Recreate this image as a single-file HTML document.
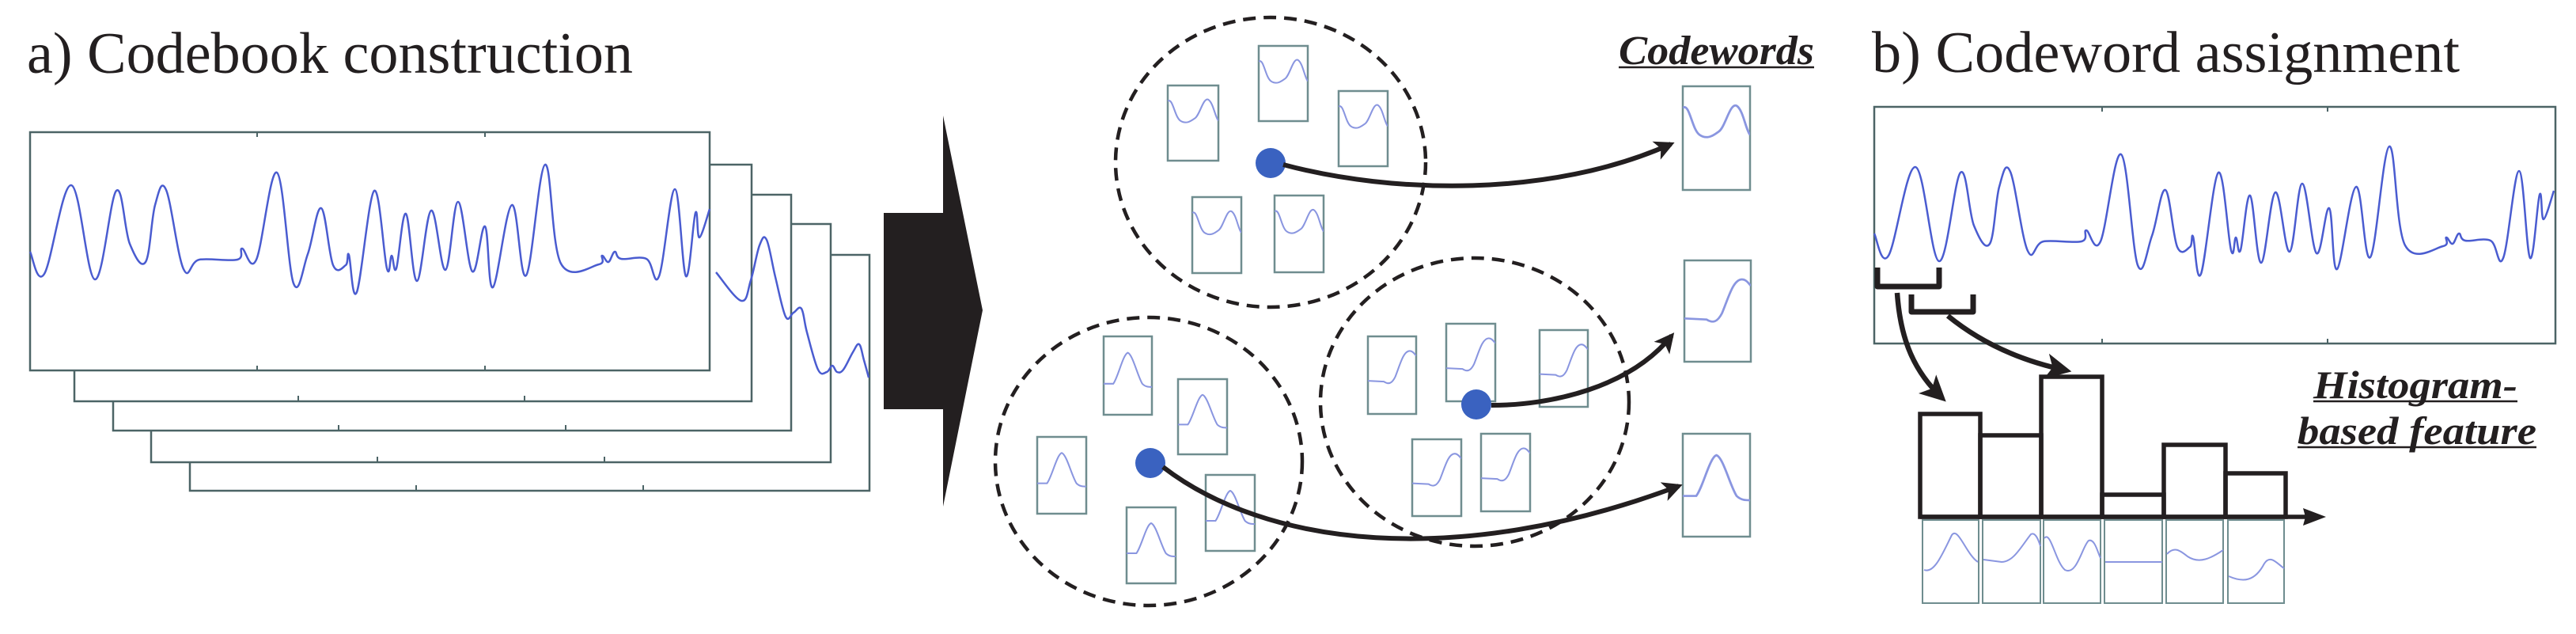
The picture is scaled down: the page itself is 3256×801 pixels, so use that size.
<!DOCTYPE html>
<html><head><meta charset="utf-8"><style>html,body{margin:0;padding:0;background:#fff}svg{display:block}</style></head>
<body>
<svg id="root" width="3256" height="801" viewBox="0 0 3256 801" xmlns="http://www.w3.org/2000/svg">
<defs>
<marker id="ah" viewBox="0 0 10 10" refX="8" refY="5" markerWidth="4.2" markerHeight="4.2" orient="auto" markerUnits="strokeWidth"><path d="M0,0 L10,5 L0,10 L2.5,5 z" fill="#231f20"/></marker>
<marker id="ah2" viewBox="0 0 10 10" refX="8" refY="5" markerWidth="5" markerHeight="5" orient="auto" markerUnits="strokeWidth"><path d="M0,0 L10,5 L0,10 L2.5,5 z" fill="#231f20"/></marker>
<symbol id="wA" viewBox="0 0 60 96" preserveAspectRatio="none"><path d="M0,20 C6,15 8,40 15,45 C22,50 28,45 32,42 C38,38 42,15 48,18 C54,22 56,40 60,45" fill="none" stroke="#8a96e0" stroke-width="2"/></symbol>
<symbol id="wB" viewBox="0 0 60 96" preserveAspectRatio="none"><path d="M0,55 L20,56 C26,60 30,58 34,50 C40,35 44,18 52,18 C56,18 58,22 60,24" fill="none" stroke="#8a96e0" stroke-width="2"/></symbol>
<symbol id="wC" viewBox="0 0 60 96" preserveAspectRatio="none"><path d="M0,58 L12,58 C18,50 24,22 30,20 C36,22 42,48 48,58 C52,62 56,62 60,62" fill="none" stroke="#8a96e0" stroke-width="2"/></symbol>
<g id="sig"><polyline class="sm" points="0,0 18,28 52,-84 82,35 109,-77 126,-10 146,13 158,-59 172,-78 194,22 214,10 262,10 268,-4 286,10 312,-100 333,40 351,3 368,-55 383,17 399,17 403,4 413,51 435,-77 451,21 457,5 463,21 475,-48 489,37 507,-52 525,23 541,-63 559,25 575,-32 585,45 609,-59 627,30 651,-110 671,15 719,16 723,5 731,13 739,0 747,9 779,9 795,31 815,-79 829,31 841,-49 846,-18 859,-54" fill="none" stroke="#4a5cd0" stroke-width="2.5" stroke-linejoin="round"/></g>
</defs>

<text x="34" y="92" font-family="Liberation Serif, serif" font-size="74" fill="#231f20" textLength="766" lengthAdjust="spacingAndGlyphs">a) Codebook construction</text>
<text x="2366" y="91" font-family="Liberation Serif, serif" font-size="74" fill="#231f20" textLength="743" lengthAdjust="spacingAndGlyphs">b) Codeword assignment</text>

<g stroke="#4c6466" stroke-width="2.5" fill="#fff">
<rect x="240" y="322" width="859" height="298"/>
<rect x="191" y="283" width="859" height="301"/>
<rect x="143" y="246" width="857" height="298"/>
<rect x="94" y="208" width="856" height="299"/>
<rect x="38" y="167" width="859" height="301"/>
</g>
<g stroke="#4c6466" stroke-width="2">
<line x1="325" y1="167" x2="325" y2="173"/><line x1="613" y1="167" x2="613" y2="173"/>
<line x1="325" y1="468" x2="325" y2="462"/><line x1="613" y1="468" x2="613" y2="462"/>
<line x1="377" y1="507" x2="377" y2="500"/><line x1="663" y1="507" x2="663" y2="500"/>
<line x1="428" y1="544" x2="428" y2="537"/><line x1="715" y1="544" x2="715" y2="537"/>
<line x1="477" y1="584" x2="477" y2="577"/><line x1="764" y1="584" x2="764" y2="577"/>
<line x1="526" y1="620" x2="526" y2="613"/><line x1="813" y1="620" x2="813" y2="613"/>
</g>
<use href="#sig" transform="translate(38,318)"/>
<polyline class="sm" points="905,344 937,380 949,354 960,310 969,303 980,350 993,400 1003,395 1013,390 1020,420 1034,467 1045,470 1052,462 1058,470 1066,467 1078,445 1086,435 1092,455 1098,477" fill="none" stroke="#4a5cd0" stroke-width="2.5" stroke-linejoin="round"/>

<polygon points="1117,269 1192,269 1192,146 1242,392 1192,640 1192,517 1117,517" fill="#231f20"/>

<g fill="none" stroke="#231f20" stroke-width="4.5" stroke-dasharray="16,10">
<ellipse cx="1606" cy="205" rx="196" ry="183"/>
<ellipse cx="1452" cy="583" rx="194" ry="182"/>
<ellipse cx="1864" cy="508" rx="195" ry="182"/>
</g>
<g stroke="#6f8d8f" stroke-width="2.5" fill="#fff">
<rect x="1476" y="108" width="64" height="95"/><rect x="1591" y="58" width="62" height="95"/><rect x="1692" y="115" width="62" height="95"/><rect x="1507" y="249" width="62" height="96"/><rect x="1611" y="247" width="62" height="97"/>
<rect x="1395" y="425" width="61" height="99"/><rect x="1489" y="479" width="62" height="95"/><rect x="1311" y="552" width="62" height="97"/><rect x="1524" y="600" width="62" height="96"/><rect x="1424" y="641" width="62" height="96"/>
<rect x="1729" y="425" width="61" height="98"/><rect x="1828" y="409" width="62" height="98"/><rect x="1946" y="417" width="61" height="97"/><rect x="1785" y="555" width="62" height="97"/><rect x="1872" y="548" width="62" height="98"/>
<rect x="2127" y="109" width="85" height="131"/><rect x="2129" y="329" width="84" height="128"/><rect x="2127" y="548" width="85" height="130"/>
</g>
<use href="#wA" x="1476" y="108" width="64" height="95"/><use href="#wA" x="1591" y="58" width="62" height="95"/><use href="#wA" x="1692" y="115" width="62" height="95"/><use href="#wA" x="1507" y="249" width="62" height="96"/><use href="#wA" x="1611" y="247" width="62" height="97"/>
<use href="#wC" x="1395" y="425" width="61" height="99"/><use href="#wC" x="1489" y="479" width="62" height="95"/><use href="#wC" x="1311" y="552" width="62" height="97"/><use href="#wC" x="1524" y="600" width="62" height="96"/><use href="#wC" x="1424" y="641" width="62" height="96"/>
<use href="#wB" x="1729" y="425" width="61" height="98"/><use href="#wB" x="1828" y="409" width="62" height="98"/><use href="#wB" x="1946" y="417" width="61" height="97"/><use href="#wB" x="1785" y="555" width="62" height="97"/><use href="#wB" x="1872" y="548" width="62" height="98"/>
<use href="#wA" x="2127" y="109" width="85" height="131"/><use href="#wB" x="2129" y="329" width="84" height="128"/><use href="#wC" x="2127" y="548" width="85" height="130"/>

<g fill="#3a62c0"><circle cx="1606" cy="206" r="19"/><circle cx="1454" cy="585" r="19"/><circle cx="1866" cy="511" r="19"/></g>
<g fill="none" stroke="#231f20" stroke-width="6">
<path d="M1622,208 C1760,245 1960,250 2112,182" marker-end="url(#ah)"/>
<path d="M1885,512 C1960,512 2060,490 2113,424" marker-end="url(#ah)"/>
<path d="M1470,590 C1600,690 1840,720 2122,614" marker-end="url(#ah)"/>
</g>
<text x="2046" y="81" font-family="Liberation Serif, serif" font-size="52" font-weight="bold" font-style="italic" fill="#231f20" textLength="247" lengthAdjust="spacingAndGlyphs">Codewords</text>
<line x1="2046" y1="85" x2="2293" y2="85" stroke="#231f20" stroke-width="2.5"/>

<rect x="2369" y="135" width="861" height="299" fill="#fff" stroke="#4c6466" stroke-width="2.5"/>
<g stroke="#4c6466" stroke-width="2"><line x1="2657" y1="135" x2="2657" y2="141"/><line x1="2942" y1="135" x2="2942" y2="141"/><line x1="2657" y1="434" x2="2657" y2="428"/><line x1="2942" y1="434" x2="2942" y2="428"/></g>
<use href="#sig" transform="translate(2369,295)"/>
<g fill="none" stroke="#231f20" stroke-width="7" stroke-linejoin="round">
<polyline points="2373,338 2373,362 2451,362 2451,338"/>
<polyline points="2416,372 2416,394 2494,394 2494,372"/>
</g>
<g fill="none" stroke="#231f20" stroke-width="6.5">
<path d="M2398,370 C2402,430 2420,470 2455,503" marker-end="url(#ah2)"/>
<path d="M2462,399 C2500,430 2550,455 2612,468" marker-end="url(#ah2)"/>
</g>

<g stroke="#6f8d8f" stroke-width="2" fill="#fff">
<rect x="2430" y="657" width="71" height="105"/><rect x="2506" y="657" width="73" height="105"/><rect x="2583" y="657" width="72" height="105"/><rect x="2660" y="657" width="73" height="105"/><rect x="2738" y="657" width="72" height="105"/><rect x="2816" y="657" width="71" height="105"/>
</g>
<g fill="none" stroke="#8a96e0" stroke-width="2">
<path d="M2432,720 C2445,725 2455,700 2467,676 C2475,665 2485,700 2500,710"/>
<path d="M2507,707 L2530,710 C2545,710 2555,690 2567,675 C2572,672 2576,680 2579,690"/>
<path d="M2584,680 C2592,670 2598,710 2610,720 C2625,728 2632,690 2640,683 C2648,680 2652,700 2655,705"/>
<path d="M2661,710 L2733,710"/>
<path d="M2739,700 C2748,690 2755,695 2765,703 C2780,713 2795,705 2810,695"/>
<path d="M2817,728 C2835,736 2850,735 2862,712 C2870,700 2878,712 2887,718"/>
</g>
<g fill="none" stroke="#231f20" stroke-width="5.5">
<rect x="2427" y="523" width="76" height="130"/><rect x="2503" y="550" width="77" height="103"/><rect x="2580" y="476" width="77" height="177"/><rect x="2657" y="625" width="78" height="28"/><rect x="2735" y="562" width="78" height="91"/><rect x="2813" y="598" width="76" height="55"/>
</g>
<line x1="2427" y1="653" x2="2915" y2="653" stroke="#231f20" stroke-width="5.5"/>
<polygon points="2940,653 2911,642 2914,653 2911,664" fill="#231f20"/>

<text x="2924" y="503" font-family="Liberation Serif, serif" font-size="50" font-weight="bold" font-style="italic" fill="#231f20" textLength="258" lengthAdjust="spacingAndGlyphs">Histogram-</text>
<line x1="2924" y1="507" x2="3182" y2="507" stroke="#231f20" stroke-width="2.5"/>
<text x="2904" y="561" font-family="Liberation Serif, serif" font-size="50" font-weight="bold" font-style="italic" fill="#231f20" textLength="302" lengthAdjust="spacingAndGlyphs">based feature</text>
<line x1="2904" y1="565" x2="3206" y2="565" stroke="#231f20" stroke-width="2.5"/>
</svg>
<script>
(function(){
var NS="http://www.w3.org/2000/svg";
var pls=document.querySelectorAll("polyline.sm");
for(var k=0;k<pls.length;k++){
 var pl=pls[k];
 var pts=pl.getAttribute("points").trim().split(/\s+/).map(function(s){var a=s.split(",");return [+a[0],+a[1]];});
 var d="M"+pts[0][0]+","+pts[0][1];
 for(var i=0;i<pts.length-1;i++){
  var p0=pts[i-1]||pts[i],p1=pts[i],p2=pts[i+1],p3=pts[i+2]||p2;
  var t=0.18;
  var c1x=p1[0]+(p2[0]-p0[0])*t,c1y=p1[1]+(p2[1]-p0[1])*t;
  var c2x=p2[0]-(p3[0]-p1[0])*t,c2y=p2[1]-(p3[1]-p1[1])*t;
  d+=" C"+c1x.toFixed(1)+","+c1y.toFixed(1)+" "+c2x.toFixed(1)+","+c2y.toFixed(1)+" "+p2[0]+","+p2[1];
 }
 var p=document.createElementNS(NS,"path");
 p.setAttribute("d",d);p.setAttribute("fill","none");
 p.setAttribute("stroke",pl.getAttribute("stroke"));
 p.setAttribute("stroke-width",pl.getAttribute("stroke-width"));
 pl.parentNode.replaceChild(p,pl);
}
})();
</script>
</body></html>
